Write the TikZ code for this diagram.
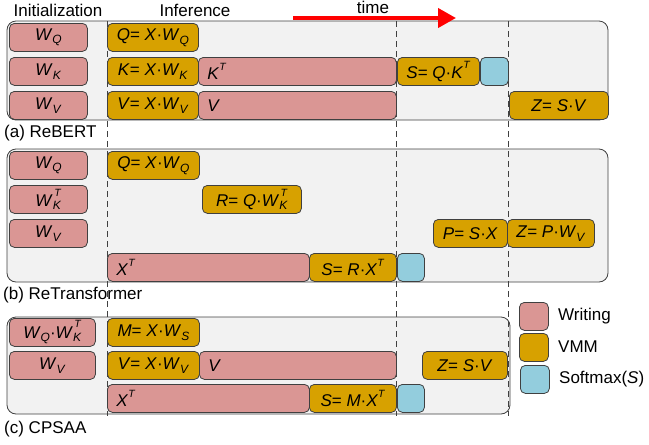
\documentclass[tikz,border=0pt]{standalone}
\usepackage{fontspec}
\setmainfont{Liberation Sans}
\usetikzlibrary{arrows.meta}

\definecolor{wrpink}{RGB}{218,150,148}
\definecolor{vmmgold}{RGB}{215,161,0}
\definecolor{smxcyan}{RGB}{147,205,221}
\definecolor{panelgray}{RGB}{242,242,242}
\definecolor{edgegray}{RGB}{64,64,64}

\newcommand{\mv}[1]{\textit{#1}}
\newcommand{\msub}[2]{\textit{#1}\raisebox{-0.22em}{\fontsize{12}{13}\selectfont\textit{#2}}}
\newcommand{\msup}[2]{\textit{#1}\raisebox{0.55em}{\fontsize{10.5}{11}\selectfont\textit{#2}}}
\newcommand{\msubsup}[3]{\textit{#1}\raisebox{-0.22em}{\fontsize{12}{13}\selectfont\textit{#2}}\llap{\raisebox{0.6em}{\fontsize{10.5}{11}\selectfont\textit{#3}}}\hspace{0.12em}}

\tikzset{
  blk/.style={draw=edgegray, line width=0.8pt, rounded corners=5pt, anchor=north west,
    inner sep=0pt, minimum height=28pt},
  wr/.style={blk, fill=wrpink},
  vmm/.style={blk, fill=vmmgold},
  smx/.style={blk, fill=smxcyan},
  lft/.style={align=left, inner xsep=9pt},
  panel/.style={draw=edgegray, fill=panelgray, line width=0.8pt, rounded corners=9pt},
  sep/.style={draw=edgegray, line width=0.8pt, dash pattern=on 6pt off 4pt},
}

\begin{document}
\begin{tikzpicture}[x=1pt, y=-1pt, font=\fontsize{17}{20}\selectfont]
  \useasboundingbox (0,0) rectangle (649,445);

  % panels
  \draw[panel] (7,21) rectangle (608,120);
  \draw[panel] (7,149) rectangle (608,282);
  \draw[panel] (7,317) rectangle (510,414);
  \foreach \x in {107,396,508}
    \draw[sep] (\x,21) -- (\x,416);

  % headings
  \node[anchor=base] (init) at (58,16) {Initialization};
  \node[anchor=base] (infer) at (195,16) {Inference};
  \node[anchor=base] (tm) at (373,13.5) {time};

  % (a) ReBERT
  \node[wr, minimum width=78pt] (wqa) at (9,23) {\msub{W}{Q}};
  \node[vmm, minimum width=91pt] (qa) at (107,23) {\mv{Q}= \mv{X}·\msub{W}{Q}};
  \node[wr, minimum width=78pt] (wka) at (9,57) {\msub{W}{K}};
  \node[vmm, minimum width=91pt] (ka) at (107,57) {\mv{K}= \mv{X}·\msub{W}{K}};
  \node[wr, lft, text width=180pt] (kta) at (198,57) {\msup{K}{T}};
  \node[vmm, minimum width=82pt] (sa) at (397,57) {\mv{S}= \mv{Q}·\msup{K}{T}};
  \node[smx, minimum width=28pt] (fa) at (480,57) {};
  \node[wr, minimum width=78pt] (wva) at (9,91) {\msub{W}{V}};
  \node[vmm, minimum width=91pt] (va) at (107,91) {\mv{V}= \mv{X}·\msub{W}{V}};
  \node[wr, lft, text width=180pt] (vta) at (198,91) {\mv{V}};
  \node[vmm, minimum width=99pt] (za) at (509,91) {\mv{Z}= \mv{S}·\mv{V}};
  \node[anchor=base west, inner sep=0pt] (la) at (4,137) {(a) ReBERT};

  % (b) ReTransformer
  \node[wr, minimum width=78pt] (wqb) at (9,151) {\msub{W}{Q}};
  \node[vmm, minimum width=92pt] (qb) at (107,151) {\mv{Q}= \mv{X}·\msub{W}{Q}};
  \node[wr, minimum width=78pt] (wkb) at (9,185) {\msubsup{W}{K}{T}};
  \node[vmm, minimum width=99pt] (rb) at (202,185) {\mv{R}= \mv{Q}·\msubsup{W}{K}{T}};
  \node[wr, minimum width=78pt] (wvb) at (9,219) {\msub{W}{V}};
  \node[vmm, minimum width=74pt] (pb) at (433,219) {\mv{P}= \mv{S}·\mv{X}};
  \node[vmm, minimum width=87pt] (zb) at (507,219) {\mv{Z}= \mv{P}·\msub{W}{V}};
  \node[wr, lft, text width=184pt] (xb) at (107,253) {\msup{X}{T}};
  \node[vmm, minimum width=87pt] (sb) at (309,253) {\mv{S}= \mv{R}·\msup{X}{T}};
  \node[smx, minimum width=27pt] (fb) at (397,253) {};
  \node[anchor=base west, inner sep=0pt] (lb) at (3,299) {(b) ReTransformer};

  % (c) CPSAA
  \node[wr, minimum width=86pt] (wqc) at (9,318) {\msub{W}{Q}·\msubsup{W}{K}{T}};
  \node[vmm, minimum width=92pt] (mc) at (107,318) {\mv{M}= \mv{X}·\msub{W}{S}};
  \node[wr, minimum width=86pt] (wvc) at (9,351) {\msub{W}{V}};
  \node[vmm, minimum width=92pt] (vc) at (107,351) {\mv{V}= \mv{X}·\msub{W}{V}};
  \node[wr, lft, text width=179pt] (vtc) at (199,351) {\mv{V}};
  \node[vmm, minimum width=85pt] (zc) at (422,351) {\mv{Z}= \mv{S}·\mv{V}};
  \node[wr, lft, text width=184pt] (xc) at (107,384) {\msup{X}{T}};
  \node[vmm, minimum width=87pt] (sc) at (309,384) {\mv{S}= \mv{M}·\msup{X}{T}};
  \node[smx, minimum width=27pt] (fc) at (397,384) {};
  \node[anchor=base west, inner sep=0pt] (lc) at (4,433) {(c) CPSAA};

  % legend
  \node[wr, minimum width=29pt] (lw) at (519,302) {};
  \node[anchor=west, inner sep=0pt] (lwt) at (558,316) {Writing};
  \node[vmm, minimum width=29pt] (lv) at (519,333) {};
  \node[anchor=west, inner sep=0pt] (lvt) at (558,347) {VMM};
  \node[smx, minimum width=29pt] (ls) at (520,365) {};
  \node[anchor=west, inner sep=0pt] (lst) at (559,379) {Softmax(\mv{S})};

  % time arrow
  \coordinate (t0) at (293,18);
  \coordinate (t1) at (456,18);
  \draw[red, line width=4pt, -{Triangle[length=18pt,width=19pt]}] (t0) -- (t1);
\end{tikzpicture}
\end{document}
